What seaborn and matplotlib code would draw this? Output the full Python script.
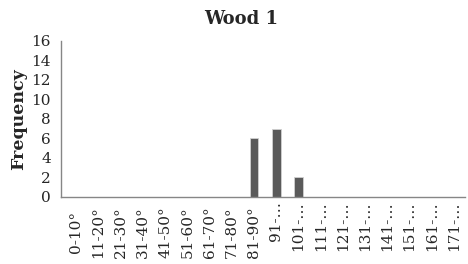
import matplotlib
matplotlib.use("Agg")
import matplotlib.pyplot as plt
import matplotlib.transforms as mtransforms
import seaborn as sns
import pandas as pd
import numpy as np
from matplotlib.ticker import FixedLocator

categories = ["0-10°", "11-20°", "21-30°", "31-40°", "41-50°", "51-60°", "61-70°",
              "71-80°", "81-90°", "91-…", "101-…", "111-…", "121-…", "131-…",
              "141-…", "151-…", "161-…", "171-…"]
frequency = [0, 0, 0, 0, 0, 0, 0, 0, 6, 7, 2, 0, 0, 0, 0, 0, 0, 0]
yticks = [0, 2, 4, 6, 8, 10, 12, 14, 16]
title = "Wood 1"
ylabel = "Frequency"

sns.set_style("white")
plt.rcParams['font.family'] = ['DejaVu Serif', 'Liberation Serif']

df = pd.DataFrame({"cat": categories, "freq": frequency})

fig = plt.figure(figsize=(4.68, 2.64), dpi=100)
ax = fig.add_axes([0.130, 0.254, 0.8636, 0.591])
sns.barplot(data=df, x="cat", y="freq", color="#5a5a5a", width=0.4,
            edgecolor="#d0d0d0", linewidth=0.6, saturation=1, ax=ax)

ax.set_ylim(0, 16)
ax.set_xlim(-0.7, len(categories) - 0.5)
ax.set_yticks(yticks)
ax.set_yticklabels([str(v) for v in yticks], fontsize=11)
ax.set_xticks(range(len(categories)))
ax.set_xticklabels([])
ax.tick_params(axis='x', which='major', length=0)
ax.xaxis.set_minor_locator(FixedLocator(np.arange(-0.5, len(categories), 1.0)))
ax.tick_params(axis='x', which='minor', length=4, direction='out', color='#868686', width=1)
ax.tick_params(axis='y', length=4, direction='out', color='#868686', width=1, pad=3)

# category labels: full labels centred in the label box, truncated ones hang from the axis
trans = mtransforms.blended_transform_factory(ax.transData, ax.transAxes)
for i, lab in enumerate(categories):
    if lab.endswith("…"):
        off = mtransforms.ScaledTranslation(0, -3 / 72, fig.dpi_scale_trans)
        ax.text(i, 0, lab, transform=trans + off, rotation=90, rotation_mode='anchor',
                ha='right', va='center', fontsize=11)
    else:
        off = mtransforms.ScaledTranslation(0, -35 / 100, fig.dpi_scale_trans)
        ax.text(i, 0, lab, transform=trans + off, rotation=90, rotation_mode='anchor',
                ha='center', va='center', fontsize=11)

for s in ['top', 'right']:
    ax.spines[s].set_visible(False)
for s in ['left', 'bottom']:
    ax.spines[s].set_color('#868686')
    ax.spines[s].set_linewidth(1)

ax.set_xlabel("")
ax.set_ylabel(ylabel, fontsize=12.5, fontweight='bold', labelpad=3)
fig.text(0.515, 0.928, title, fontsize=13, fontweight='bold', ha='center', va='center')

fig.savefig("out.png", dpi=100)
